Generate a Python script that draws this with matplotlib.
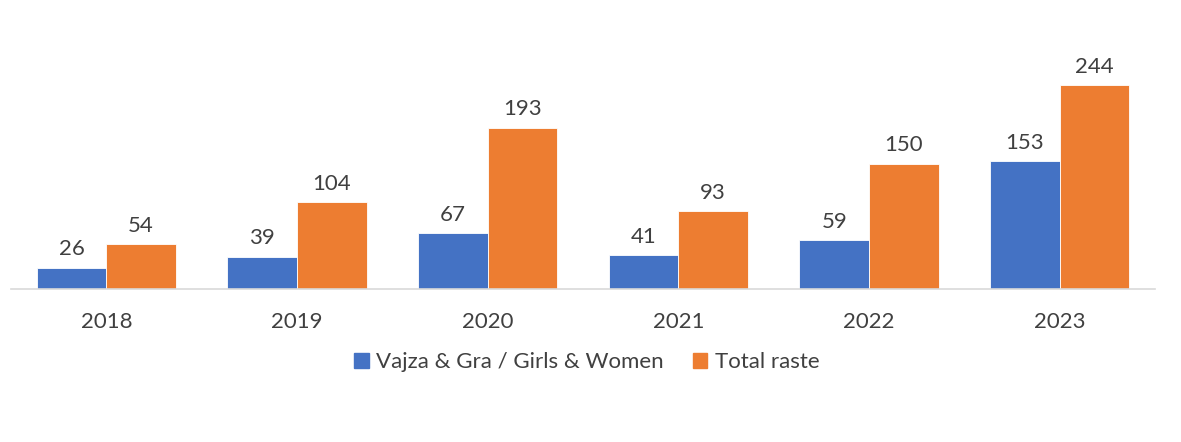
import matplotlib
matplotlib.use("Agg")
import matplotlib.pyplot as plt
import numpy as np
from matplotlib.patches import Patch

years = ["2018", "2019", "2020", "2021", "2022", "2023"]
girls_women = [26, 39, 67, 41, 59, 153]
total_cases = [54, 104, 193, 93, 150, 244]
series_names = ["Vajza & Gra / Girls & Women", "Total raste"]

BLUE = "#4472C4"
ORANGE = "#ED7D31"
TXT = "#404040"

plt.rcParams['font.family'] = ['Lato', 'DejaVu Sans']
FS = 16

fig = plt.figure(figsize=(11.81, 4.42), dpi=100)
ax = fig.add_axes([11/1181, (442-289.3)/442, (1155-11)/1181, (289.3-20)/442])

x = np.arange(len(years))
w = 0.365
b1 = ax.bar(x - w/2, girls_women, w, color=BLUE, edgecolor="white", linewidth=0.6, zorder=2)
b2 = ax.bar(x + w/2, total_cases, w, color=ORANGE, edgecolor="white", linewidth=0.6, zorder=2)

for bars, vals in ((b1, girls_women), (b2, total_cases)):
    for r, v in zip(bars, vals):
        ax.annotate(str(v), (r.get_x() + r.get_width()/2, v), xytext=(0, 6),
                    textcoords="offset points", ha="center", va="bottom",
                    fontsize=FS, color=TXT)

ax.set_xlim(-0.5, len(years) - 0.5)
ax.set_ylim(0, 321.7)
ax.set_xticks(x)
ax.set_xticklabels(years, fontsize=FS, color=TXT)
ax.tick_params(axis='x', length=0, pad=16)
ax.set_yticks([])
for s in ["top", "right", "left"]:
    ax.spines[s].set_visible(False)
ax.spines["bottom"].set_color("#D9D9D9")
ax.spines["bottom"].set_linewidth(1.2)

handles = [Patch(color=BLUE), Patch(color=ORANGE)]
fig.legend(handles, series_names, loc="center", bbox_to_anchor=(587/1181, 1 - 362/442),
           ncol=2, frameon=False, fontsize=FS, labelcolor=TXT,
           handlelength=0.65, handleheight=0.65, handletextpad=0.35, columnspacing=1.3)

fig.savefig("out.png", dpi=100)
